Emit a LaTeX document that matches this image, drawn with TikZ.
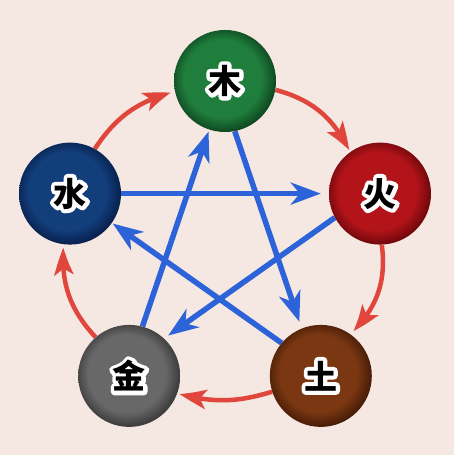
\documentclass[tikz,border=0pt]{standalone}
\usepackage{fontspec}
\newfontfamily\cjk{Noto Sans CJK SC}
\usetikzlibrary{arrows.meta,bending}
\definecolor{bgc}{HTML}{F5E7E1}
\definecolor{bluel}{HTML}{2C63D8}
\definecolor{redl}{HTML}{E0463C}
\colorlet{elin}{gray}
\colorlet{elout}{black}
\pgfdeclareradialshading[elin,elout]{elball}{\pgfpoint{-2bp}{2bp}}{color(0bp)=(elin); color(19bp)=(elin); color(27bp)=(elout); color(50bp)=(elout)}
\pgfdeclarelayer{bg}
\pgfsetlayers{bg,main}
% white outline behind each character: one stroked copy, then the black glyph
\newcommand\halo[1]{\rlap{\special{pdf:literal direct 2 Tr 1 j 8 w}\textcolor{white}{#1}\special{pdf:literal direct 0 Tr 1 w}}#1}
\begin{document}
\begin{tikzpicture}[x=1pt,y=1pt,
  elem/.style={circle, minimum size=102pt, inner sep=0pt, shade, shading=elball,
    text=black, font=\cjk\bfseries\fontsize{33}{33}\selectfont},
  bluearr/.style={draw=bluel, line width=5.5pt, -{Stealth[length=30pt,width=22pt,inset=9pt]}},
  redarr/.style={draw=redl, line width=4.5pt, -{Stealth[length=29pt,width=19pt,inset=7pt,bend]}}]
\begin{pgfonlayer}{bg}
\fill[bgc] (0,0) rectangle (454,455);
\end{pgfonlayer}
\useasboundingbox (0,0) rectangle (454,455);
\definecolor{elin}{HTML}{1F7E3C}\definecolor{elout}{HTML}{0C3F1C}
\node[elem] (mu) at (225,374) {\halo{木}};
\definecolor{elin}{HTML}{B3141A}\definecolor{elout}{HTML}{650509}
\node[elem] (huo) at (380,261.4) {\halo{火}};
\definecolor{elin}{HTML}{7A3711}\definecolor{elout}{HTML}{3E1805}
\node[elem] (tu) at (320.8,79.1) {\halo{土}};
\definecolor{elin}{HTML}{686868}\definecolor{elout}{HTML}{343434}
\node[elem] (jin) at (129.2,79.1) {\halo{金}};
\definecolor{elin}{HTML}{123E7C}\definecolor{elout}{HTML}{061C45}
\node[elem] (shui) at (70,261.4) {\halo{水}};
\begin{pgfonlayer}{bg}
% restraining (blue star)
\draw[bluearr, shorten >=8pt] (shui) -- (huo);
\draw[bluearr, shorten >=7pt] (mu.-79) -- (tu.112);
\draw[bluearr, shorten >=1pt] (tu.140) -- (shui.-35);
\draw[bluearr, shorten >=5pt] (huo.208) -- (jin.47);
\draw[bluearr, shorten >=2pt] (jin.75) -- (mu.252);
% generating (red cycle)
\draw[redarr, shorten >=2pt] (mu.-10) to[bend left=25] (huo.126);
\draw[redarr, shorten >=4pt] (huo.-88) to[bend left=27] (tu.55);
\draw[redarr, shorten >=2pt] (tu.198) to[bend left=16] (jin.-20);
\draw[redarr, shorten >=3pt] (jin.131) to[bend left=24] (shui.-97);
\draw[redarr, shorten >=4pt] (shui.61) to[bend left=21] (mu.192);
\end{pgfonlayer}
\end{tikzpicture}
\end{document}
